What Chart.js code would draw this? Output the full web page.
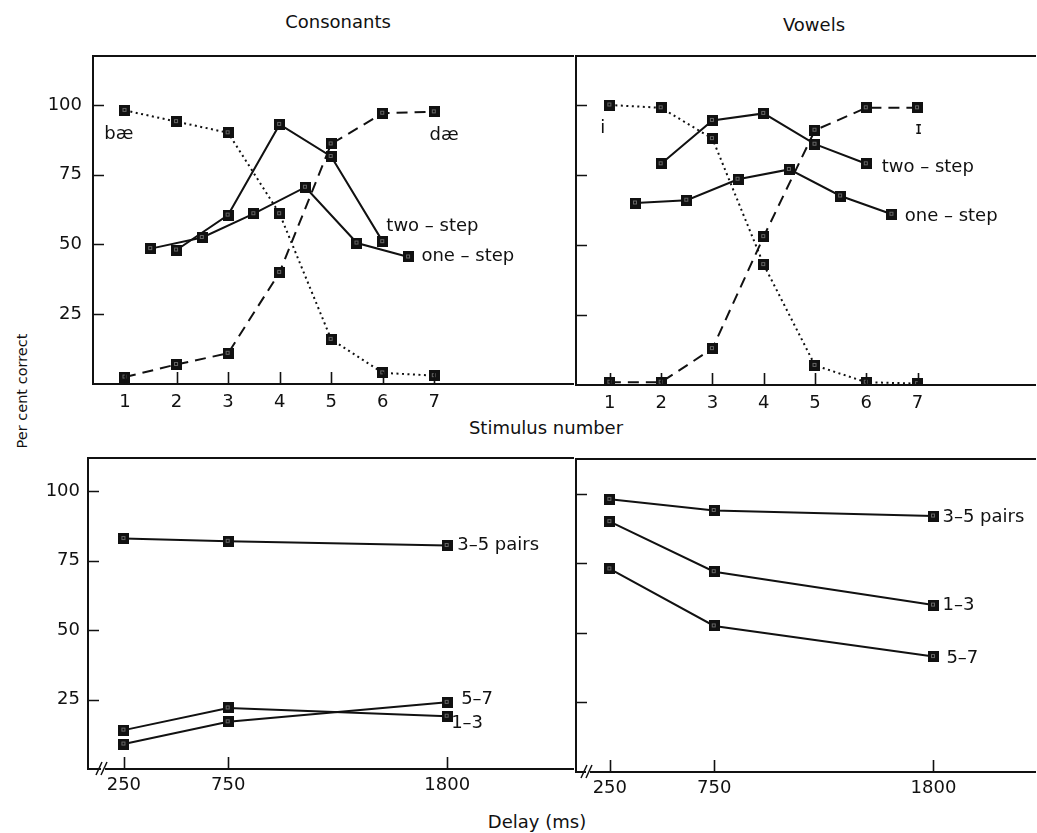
<!DOCTYPE html>
<html>
<head>
<meta charset="utf-8">
<script src="https://cdn.jsdelivr.net/npm/chart.js@4.4.1/dist/chart.umd.min.js"></script>
<style>
  html, body { margin: 0; padding: 0; background: #fff; overflow: hidden; }
  #fig { position: relative; width: 1037px; height: 833px; font-family: "DejaVu Sans", sans-serif; color: #111; }
  canvas { position: absolute; }
  .lbl { position: absolute; transform: translate(-50%, -50%); font-size: 18px; white-space: nowrap; }
</style>
</head>
<body>
<div id="fig">
  <div class="lbl" style="left:338px;top:21px">Consonants</div>
  <div class="lbl" style="left:814px;top:24px">Vowels</div>
  <div class="lbl" style="left:546px;top:427px">Stimulus number</div>
  <div class="lbl" style="left:537px;top:821px">Delay (ms)</div>
  <div class="lbl" style="left:22px;top:391px;font-size:14.5px;transform:translate(-50%,-50%) rotate(-90deg)">Per cent correct</div>
  <canvas id="tl"></canvas>
  <canvas id="tr"></canvas>
  <canvas id="bl"></canvas>
  <canvas id="br"></canvas>
</div>
<script>
// ---- data ----
const stimulus = [1, 2, 3, 4, 5, 6, 7];
const oneStepPos = [1.5, 2.5, 3.5, 4.5, 5.5, 6.5];
const twoStepPos = [2, 3, 4, 5, 6];
const pctTicks = [25, 50, 75, 100];

const consBae = [98, 94, 90, 61, 16, 4, 3];
const consDae = [2.5, 7, 11, 40, 86, 97, 97.5];
const consTwoStep = [48, 60.5, 93, 81.5, 51];
const consOneStep = [48.5, 52.5, 61, 70.5, 50.5, 45.5];

const vowI = [100, 99, 88, 43, 7, 1, 0.5];
const vowIh = [1, 1, 13, 53, 91, 99, 99];
const vowTwoStep = [79, 94.5, 97, 86, 79];
const vowOneStep = [65, 66, 73.5, 77, 67.5, 61];

const delays = [250, 750, 1800];
const consPairs35 = [83, 82, 80.5];
const consPairs13 = [14, 22, 19];
const consPairs57 = [9, 17, 24];
const vowPairs35 = [98, 94, 92];
const vowPairs13 = [90, 72, 60];
const vowPairs57 = [73, 52.5, 41.5];

const INK = '#111';
const FONT = { family: 'DejaVu Sans', size: 18 };

function marker() {
  const c = document.createElement('canvas');
  c.width = 11; c.height = 11;
  const g = c.getContext('2d');
  g.fillStyle = INK; g.fillRect(0, 0, 11, 11);
  g.strokeStyle = '#666'; g.lineWidth = 1;
  g.strokeRect(3.5, 3.5, 3, 3);
  return c;
}
const MARK = marker();

function pts(xs, ys) { return xs.map((x, i) => ({ x, y: ys[i] })); }

function series(xs, ys, kind) {
  const dash = kind === 'dot' ? [2, 3.5] : kind === 'dash' ? [11, 7] : [];
  return {
    data: pts(xs, ys),
    borderColor: INK, borderWidth: 2,
    borderDash: dash, tension: 0, fill: false,
    pointStyle: MARK, pointRadius: 5
  };
}

function framePlugin(notes, brk) {
  return {
    id: 'frame',
    afterDraw(chart) {
      const { ctx, chartArea: a } = chart;
      const sx = chart.scales.x, sy = chart.scales.y;
      ctx.save();
      ctx.strokeStyle = INK; ctx.lineWidth = 2;
      ctx.beginPath();
      ctx.moveTo(a.right, a.top); ctx.lineTo(a.left, a.top);
      ctx.lineTo(a.left, a.bottom); ctx.lineTo(a.right, a.bottom);
      ctx.stroke();
      ctx.lineWidth = 1.6;
      ctx.beginPath();
      sx.ticks.forEach(t => {
        const p = Math.round(sx.getPixelForValue(t.value)) + 0.5;
        ctx.moveTo(p, a.bottom); ctx.lineTo(p, a.bottom - 12);
      });
      sy.ticks.forEach(t => {
        const p = Math.round(sy.getPixelForValue(t.value)) + 0.5;
        ctx.moveTo(a.left, p); ctx.lineTo(a.left + 11, p);
      });
      ctx.stroke();
      if (brk) {
        const x0 = a.left + brk;
        ctx.fillStyle = '#fff';
        ctx.fillRect(x0 - 2, a.bottom - 3, 4, 6);
        ctx.lineWidth = 1.5;
        ctx.beginPath();
        ctx.moveTo(x0 - 7, a.bottom + 6); ctx.lineTo(x0 - 1, a.bottom - 7);
        ctx.moveTo(x0 - 2, a.bottom + 6); ctx.lineTo(x0 + 4, a.bottom - 7);
        ctx.stroke();
      }
      ctx.fillStyle = INK;
      ctx.font = '18px "DejaVu Sans"';
      ctx.textBaseline = 'middle';
      notes.forEach(n => {
        ctx.textAlign = n.align || 'left';
        ctx.fillText(n.t, sx.getPixelForValue(n.x), sy.getPixelForValue(n.y));
      });
      ctx.restore();
    }
  };
}

function panel(id, box, xr, yr, xTicks, showY, yPad, xPad, datasets, notes, brk) {
  const W = showY ? 70 : 0, H = 40, pad = 6;
  const cv = document.getElementById(id);
  cv.width = box.r - box.l + W + 2 * pad;
  cv.height = box.b - box.t + H + pad;
  cv.style.left = (box.l - W - pad) + 'px';
  cv.style.top = (box.t - pad) + 'px';
  new Chart(cv, {
    type: 'line',
    data: { datasets },
    options: {
      responsive: false, animation: false,
      layout: { padding: { left: pad, top: pad, right: pad, bottom: 0 } },
      plugins: { legend: { display: false }, tooltip: { enabled: false } },
      scales: {
        x: {
          type: 'linear', min: xr[0], max: xr[1],
          grid: { display: false, drawTicks: false }, border: { display: false },
          afterBuildTicks: s => { s.ticks = xTicks.map(v => ({ value: v })); },
          afterFit: s => { s.height = H; s.paddingLeft = 0; s.paddingRight = 0; },
          ticks: { padding: xPad, font: FONT, color: INK, autoSkip: false, maxRotation: 0, callback: v => String(v) }
        },
        y: {
          min: yr[0], max: yr[1],
          grid: { display: false, drawTicks: false }, border: { display: false },
          afterBuildTicks: s => { s.ticks = pctTicks.map(v => ({ value: v })); },
          afterFit: s => { s.width = W; s.paddingTop = 0; s.paddingBottom = 0; },
          ticks: { display: showY, padding: yPad, font: FONT, color: INK, autoSkip: false, callback: v => String(v) }
        }
      }
    },
    plugins: [framePlugin(notes, brk)]
  });
}

panel('tl', { l: 93, t: 55, r: 575, b: 384 }, [0.38, 9.71], [0, 117.5], stimulus, true, 11, 8, [
  series(stimulus, consBae, 'dot'),
  series(stimulus, consDae, 'dash'),
  series(twoStepPos, consTwoStep, 'solid'),
  series(oneStepPos, consOneStep, 'solid')
], [
  { t: 'bæ', x: 0.88, y: 89.5, align: 'center' },
  { t: 'dæ', x: 7.19, y: 89, align: 'center' },
  { t: 'two – step', x: 6.07, y: 56.4 },
  { t: 'one – step', x: 6.75, y: 45.7 }
], 0);

panel('tr', { l: 575, t: 55, r: 1037, b: 385 }, [0.34, 9.31], [0, 117.5], stimulus, false, 0, 8, [
  series(stimulus, vowI, 'dot'),
  series(stimulus, vowIh, 'dash'),
  series(twoStepPos, vowTwoStep, 'solid'),
  series(oneStepPos, vowOneStep, 'solid')
], [
  { t: 'i', x: 0.86, y: 91.8, align: 'center' },
  { t: 'ɪ', x: 7.02, y: 91.4, align: 'center' },
  { t: 'two – step', x: 6.3, y: 77.9 },
  { t: 'one – step', x: 6.75, y: 60.4 }
], 0);

panel('bl', { l: 88, t: 457, r: 575, b: 769 }, [78, 2408], [0, 112], delays, true, 8, 6, [
  series(delays, consPairs35, 'solid'),
  series(delays, consPairs13, 'solid'),
  series(delays, consPairs57, 'solid')
], [
  { t: '3–5 pairs', x: 1848, y: 80.6 },
  { t: '5–7', x: 1867, y: 25 },
  { t: '1–3', x: 1819, y: 16.5 }
], 15);

panel('br', { l: 575, t: 458, r: 1037, b: 772 }, [88, 2291], [0, 112.5], delays, false, 0, 6, [
  series(delays, vowPairs35, 'solid'),
  series(delays, vowPairs13, 'solid'),
  series(delays, vowPairs57, 'solid')
], [
  { t: '3–5 pairs', x: 1843, y: 91.4 },
  { t: '1–3', x: 1843, y: 60 },
  { t: '5–7', x: 1862, y: 41 }
], 12);
</script>
</body>
</html>
